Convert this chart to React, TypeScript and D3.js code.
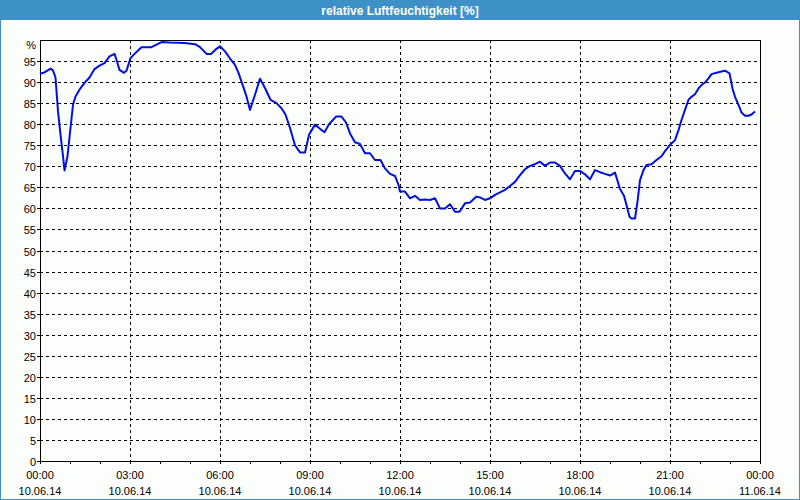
import React from "react";
import * as d3 from "d3";

const title = "relative Luftfeuchtigkeit [%]";
const unitLabel = "%";
const yTicks = [0, 5, 10, 15, 20, 25, 30, 35, 40, 45, 50, 55, 60, 65, 70, 75, 80, 85, 90, 95];
const xTickHours = [0, 3, 6, 9, 12, 15, 18, 21, 24];
const xTimeLabels = ["00:00", "03:00", "06:00", "09:00", "12:00", "15:00", "18:00", "21:00", "00:00"];
const xDateLabels = ["10.06.14", "10.06.14", "10.06.14", "10.06.14", "10.06.14", "10.06.14", "10.06.14", "10.06.14", "11.06.14"];

// minutes since 10.06.14 00:00
const minutes = [
  0, 9, 21, 26, 31, 36, 41, 46, 49, 55, 61, 66, 71, 79, 89, 99, 109, 119, 129, 139,
  149, 154, 159, 168, 173, 181, 189, 203, 223, 233, 243, 259, 289, 310, 320, 333, 342, 353, 360, 370,
  380, 390, 397, 405, 413, 420, 430, 440, 450, 461, 473, 483, 491, 500, 510, 520, 530, 538, 550, 560,
  569, 578, 592, 603, 612, 620, 630, 640, 650, 660, 670, 681, 690, 700, 710, 717, 720, 730, 740, 750,
  760, 770, 780, 790, 800, 810, 820, 830, 839, 850, 860, 873, 880, 890, 900, 910, 920, 930, 940, 950,
  960, 970, 980, 990, 1000, 1010, 1020, 1030, 1040, 1050, 1060, 1070, 1080, 1090, 1100, 1110, 1120, 1130, 1140, 1150,
  1160, 1168, 1173, 1179, 1183, 1190, 1195, 1200, 1207, 1213, 1223, 1233, 1243, 1250, 1260, 1270, 1277, 1283, 1290, 1297,
  1303, 1310, 1317, 1323, 1330, 1337, 1343, 1353, 1363, 1370, 1379, 1385, 1390, 1397, 1403, 1410, 1417, 1423, 1430,
];
const humidity = [
  92.0, 92.3, 93.2, 92.8, 91.1, 83.1, 77.5, 72.4, 69.0, 72.4, 79.1, 84.6, 86.6, 88.2, 89.8, 91.1, 93.1, 93.9, 94.5, 96.1,
  96.7, 94.9, 92.9, 92.2, 92.7, 95.7, 96.7, 98.3, 98.3, 98.9, 99.5, 99.4, 99.3, 99.0, 98.3, 96.7, 96.7, 97.9, 98.5, 97.3,
  95.6, 94.1, 92.2, 89.4, 86.6, 83.4, 87.0, 90.8, 88.6, 85.8, 85.0, 83.8, 82.3, 79.1, 75.0, 73.3, 73.3, 77.5, 79.9, 78.9,
  78.1, 80.0, 81.8, 81.8, 80.4, 77.8, 75.7, 75.3, 73.1, 73.1, 71.5, 71.5, 69.5, 68.2, 67.7, 65.6, 64.0, 64.0, 62.4, 63.0,
  62.0, 62.1, 62.0, 62.4, 60.0, 60.0, 61.0, 59.2, 59.2, 61.2, 61.4, 62.8, 62.6, 62.0, 62.4, 63.2, 63.8, 64.4, 65.3, 66.3,
  67.9, 69.3, 70.1, 70.5, 71.1, 70.1, 70.9, 70.9, 70.1, 68.3, 66.9, 68.9, 68.9, 68.1, 66.9, 69.1, 68.6, 68.2, 67.8, 68.5,
  64.6, 63.0, 60.8, 58.0, 57.6, 57.6, 61.6, 66.7, 69.1, 70.3, 70.5, 71.5, 72.4, 73.6, 75.1, 76.2, 78.6, 81.0, 83.4, 85.8,
  86.5, 87.1, 88.5, 89.3, 89.9, 90.9, 91.9, 92.2, 92.5, 92.7, 92.1, 88.5, 86.5, 84.6, 82.8, 82.0, 82.0, 82.3, 83.0,
];

const W = 800;
const H = 500;
const left = 40;
const right = 760;
const top = 40;
const bottom = 461;

export default function App() {
  const x = d3.scaleLinear().domain([0, 24 * 60]).range([left, right]);
  const y = d3.scaleLinear().domain([0, 100]).range([bottom, top]);
  const pts = minutes.map((m, i) => [m, humidity[i]] as [number, number]);
  const line = d3
    .line<[number, number]>()
    .x((d) => x(d[0]))
    .y((d) => y(d[1]));
  const hours = d3.range(0, 25);
  const font = "'Liberation Sans', Arial, sans-serif";

  return (
    <div style={{ position: "fixed", left: 0, top: 0 }}>
      <svg width={W} height={H} style={{ display: "block" }}>
        <rect x={0} y={0} width={W} height={H} fill="#fcfefc" />
        <rect x={0} y={0} width={W} height={20} fill="#3e91c7" />
        <rect x={0.5} y={0.5} width={W - 1} height={H - 1} fill="none" stroke="#3e91c7" strokeWidth={1} />
        <text x={W / 2} y={15} textAnchor="middle" fill="#ffffff" fontFamily={font} fontSize={12} fontWeight="bold">
          {title}
        </text>

        {/* grid */}
        <g stroke="#000" strokeWidth={1} strokeDasharray="3,3" shapeRendering="crispEdges">
          {yTicks
            .filter((v) => v > 0)
            .map((v) => (
              <line key={"gy" + v} x1={left} x2={right} y1={Math.round(y(v)) + 0.5} y2={Math.round(y(v)) + 0.5} />
            ))}
          {xTickHours
            .filter((h) => h > 0 && h < 24)
            .map((h) => (
              <line key={"gx" + h} x1={Math.round(x(h * 60)) + 0.5} x2={Math.round(x(h * 60)) + 0.5} y1={top} y2={bottom} />
            ))}
        </g>

        {/* ticks */}
        <g stroke="#000" strokeWidth={1} shapeRendering="crispEdges">
          {hours.map((h) => (
            <line key={"tx" + h} x1={Math.round(x(h * 60)) + 0.5} x2={Math.round(x(h * 60)) + 0.5} y1={bottom} y2={bottom + 3} />
          ))}
          {yTicks.map((v) => (
            <line key={"ty" + v} x1={left - 3} x2={left} y1={Math.round(y(v)) + 0.5} y2={Math.round(y(v)) + 0.5} />
          ))}
        </g>

        {/* frame */}
        <rect x={left + 0.5} y={top + 0.5} width={right - left} height={bottom - top} fill="none" stroke="#000" strokeWidth={1} shapeRendering="crispEdges" />

        {/* line */}
        <path d={line(pts) || ""} fill="none" stroke="#0010e0" strokeWidth={2} strokeLinejoin="round" />

        {/* y labels */}
        <g fontFamily={font} fontSize={11} fill="#000" textAnchor="end">
          {yTicks.map((v) => (
            <text key={"ly" + v} x={36} y={y(v) + 5}>
              {v}
            </text>
          ))}
          <text x={36} y={y(100) + 9}>
            {unitLabel}
          </text>
        </g>

        {/* x labels */}
        <g fontFamily={font} fontSize={11} fill="#000" textAnchor="middle">
          {xTickHours.map((h, i) => (
            <g key={"lx" + h}>
              <text x={x(h * 60)} y={479}>
                {xTimeLabels[i]}
              </text>
              <text x={x(h * 60)} y={495}>
                {xDateLabels[i]}
              </text>
            </g>
          ))}
        </g>
      </svg>
    </div>
  );
}
